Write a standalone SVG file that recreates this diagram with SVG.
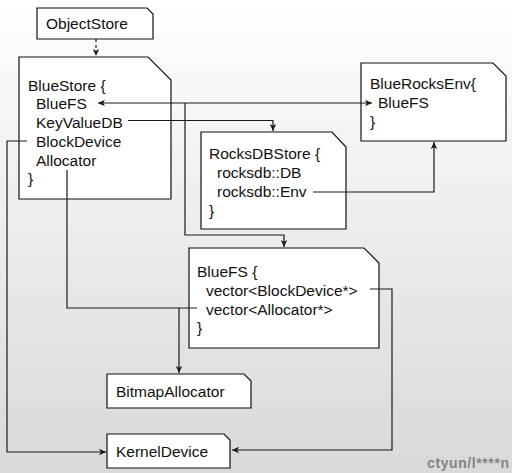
<svg xmlns="http://www.w3.org/2000/svg" width="512" height="473" viewBox="0 0 512 473">
<defs>
<linearGradient id="bg" x1="0" y1="0" x2="0" y2="1">
<stop offset="0" stop-color="#ffffff"/>
<stop offset="1" stop-color="#d9d9d9"/>
</linearGradient>
<marker id="ah" viewBox="0 0 8 8" refX="7" refY="4" markerWidth="8" markerHeight="8" markerUnits="userSpaceOnUse" orient="auto-start-reverse">
<path d="M0,0.8 L7,4 L0,7.2 L1.8,4 z" fill="#1a1a1a"/>
</marker>
<style>
.box{fill:#ffffff;stroke:#111111;stroke-width:1.2}
.t{font-family:"Liberation Sans",Arial,sans-serif;font-size:15.5px;fill:#111111}
.c{fill:none;stroke:#1a1a1a;stroke-width:1.2}
.wm{font-family:"Liberation Sans",Arial,sans-serif;font-size:14px;font-weight:bold;fill:#858585}
</style>
</defs>
<rect x="0" y="0" width="512" height="473" fill="url(#bg)"/>

<g id="ObjectStore">
<polygon class="box" points="37,8 147,8 153,14 153,39 37,39"/>
<text class="t" x="46" y="29">ObjectStore</text>
</g>

<g id="BlueStore">
<polygon class="box" points="19,57 148,57 171,80 171,199 19,199"/>
<text class="t" x="28" y="90.5">BlueStore {</text>
<text class="t" x="36" y="109">BlueFS</text>
<text class="t" x="36" y="128">KeyValueDB</text>
<text class="t" x="36" y="146.5">BlockDevice</text>
<text class="t" x="36" y="165.5">Allocator</text>
<text class="t" x="28" y="184">}</text>
</g>

<g id="BlueRocksEnv">
<polygon class="box" points="361,63 493,63 506,76 506,141 361,141"/>
<text class="t" x="370" y="88.5">BlueRocksEnv{</text>
<text class="t" x="378" y="108">BlueFS</text>
<text class="t" x="370" y="127">}</text>
</g>

<g id="RocksDBStore">
<polygon class="box" points="201,132 332,132 346,147 346,229 201,229"/>
<text class="t" x="209" y="159">RocksDBStore {</text>
<text class="t" x="217" y="178">rocksdb::DB</text>
<text class="t" x="217" y="197">rocksdb::Env</text>
<text class="t" x="209" y="216">}</text>
</g>

<g id="BlueFS">
<polygon class="box" points="189,248 364,248 379,263 379,348 189,348"/>
<text class="t" x="197" y="277">BlueFS {</text>
<text class="t" x="206" y="296">vector&lt;BlockDevice*&gt;</text>
<text class="t" x="206" y="314.5">vector&lt;Allocator*&gt;</text>
<text class="t" x="197" y="333">}</text>
</g>

<g id="BitmapAllocator">
<polygon class="box" points="107,374 244,374 251,381 251,408 107,408"/>
<text class="t" x="116" y="397">BitmapAllocator</text>
</g>

<g id="KernelDevice">
<polygon class="box" points="107,434 224,434 230,440 230,468 107,468"/>
<text class="t" x="116" y="457">KernelDevice</text>
</g>

<g id="connectors">
<path class="c" d="M96,39 V56" stroke-dasharray="3,3" marker-end="url(#ah)"/>
<path class="c" d="M98,103 H372" marker-start="url(#ah)" marker-end="url(#ah)"/>
<path class="c" d="M185,103 V235 H284 V247" marker-end="url(#ah)"/>
<path class="c" d="M128,120.5 H273 V131" marker-end="url(#ah)"/>
<path class="c" d="M313,192 H434 V142" marker-end="url(#ah)"/>
<path class="c" d="M27,141 H7 V452 H106" marker-end="url(#ah)"/>
<path class="c" d="M67,170 V308 H197"/>
<path class="c" d="M179,308 V373" marker-end="url(#ah)"/>
<path class="c" d="M370,289 H392 V450 H232" marker-end="url(#ah)"/>
</g>

<text class="wm" x="427" y="468" textLength="82" lengthAdjust="spacing">ctyun/l****n</text>
</svg>
